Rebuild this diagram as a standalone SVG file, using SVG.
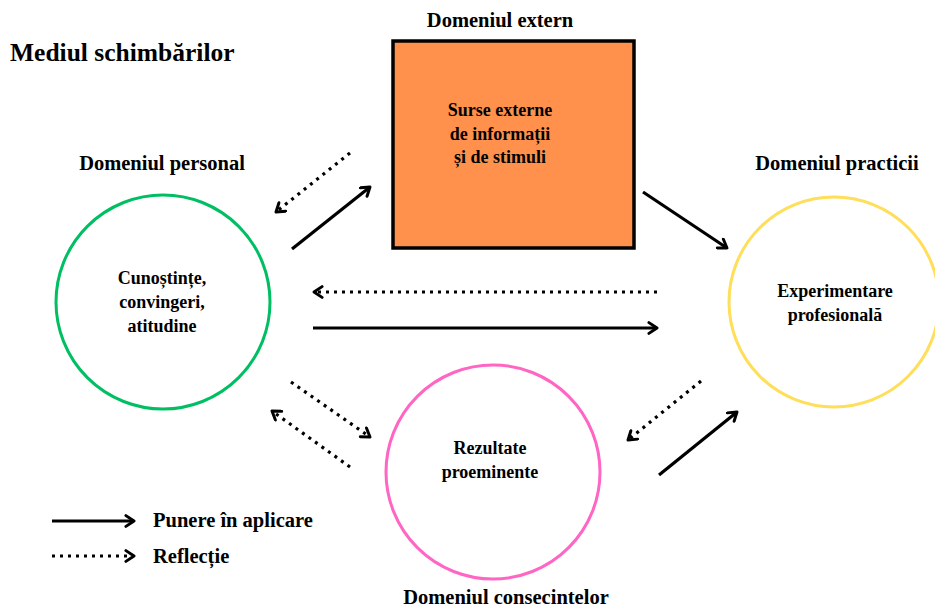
<svg xmlns="http://www.w3.org/2000/svg" width="935" height="609" viewBox="0 0 935 609">
<style>
text{font-family:"Liberation Serif","DejaVu Serif",serif;font-weight:bold;fill:#000}
.t{font-size:20.5px;text-anchor:middle}
.c{font-size:18px;text-anchor:middle}
.l{font-size:20.5px}
.s{stroke:#000;stroke-width:3.2;fill:none}
.d{stroke:#000;stroke-width:3.2;fill:none;stroke-dasharray:3 5}
</style>
<defs>
<marker id="ah" viewBox="0 0 10 10" refX="8" refY="5" markerWidth="4.2" markerHeight="4.2" orient="auto" markerUnits="strokeWidth">
<path d="M2,1 L8,5 L2,9" fill="none" stroke="#000" stroke-width="2.2" stroke-linecap="round" stroke-linejoin="round"/>
</marker>
</defs>
<rect width="935" height="609" fill="#fff"/>
<text x="10" y="61" style="font-size:25.5px">Mediul schimbărilor</text>
<g id="extern">
<text class="t" x="500" y="27">Domeniul extern</text>
<rect x="393" y="41" width="241" height="207" fill="#FF914D" stroke="#000" stroke-width="3.5"/>
<text class="c" x="500" y="116">Surse externe</text>
<text class="c" x="500" y="140">de informații</text>
<text class="c" x="500" y="163">și de stimuli</text>
</g>
<g id="personal">
<text class="t" x="162" y="170">Domeniul personal</text>
<circle cx="163" cy="302" r="107" fill="none" stroke="#00BF63" stroke-width="3"/>
<text class="c" x="162" y="284">Cunoștințe,</text>
<text class="c" x="162" y="308">convingeri,</text>
<text class="c" x="162" y="332">atitudine</text>
</g>
<g id="practicii">
<text class="t" x="837" y="170">Domeniul practicii</text>
<circle cx="834" cy="302" r="105" fill="none" stroke="#FFDE59" stroke-width="3"/>
<text class="c" x="835" y="297">Experimentare</text>
<text class="c" x="835" y="321">profesională</text>
</g>
<g id="consecintelor">
<circle cx="493" cy="472" r="107" fill="none" stroke="#FF66C4" stroke-width="3"/>
<text class="c" x="490" y="454">Rezultate</text>
<text class="c" x="490" y="478">proeminente</text>
<text class="t" x="506" y="604">Domeniul consecintelor</text>
</g>
<g id="connectors">
<line class="d" x1="350" y1="153" x2="276" y2="212" marker-end="url(#ah)"/>
<line class="s" x1="292" y1="249" x2="370" y2="187" marker-end="url(#ah)"/>
<line class="s" x1="643" y1="192" x2="727" y2="248" marker-end="url(#ah)"/>
<line class="d" x1="657" y1="292" x2="314" y2="292" marker-end="url(#ah)"/>
<line class="s" x1="313" y1="328" x2="657" y2="328" marker-end="url(#ah)"/>
<line class="d" x1="291" y1="382" x2="370" y2="437" marker-end="url(#ah)"/>
<line class="d" x1="350" y1="467" x2="272" y2="411" marker-end="url(#ah)"/>
<line class="d" x1="701" y1="381" x2="628" y2="440" marker-end="url(#ah)"/>
<line class="s" x1="659" y1="475" x2="737" y2="412" marker-end="url(#ah)"/>
</g>
<g id="legend">
<line class="s" x1="52" y1="521" x2="134" y2="521" marker-end="url(#ah)"/>
<line class="d" x1="52" y1="556" x2="134" y2="556" marker-end="url(#ah)"/>
<text class="l" x="153" y="527">Punere în aplicare</text>
<text class="l" x="153" y="563">Reflecție</text>
</g>
</svg>
